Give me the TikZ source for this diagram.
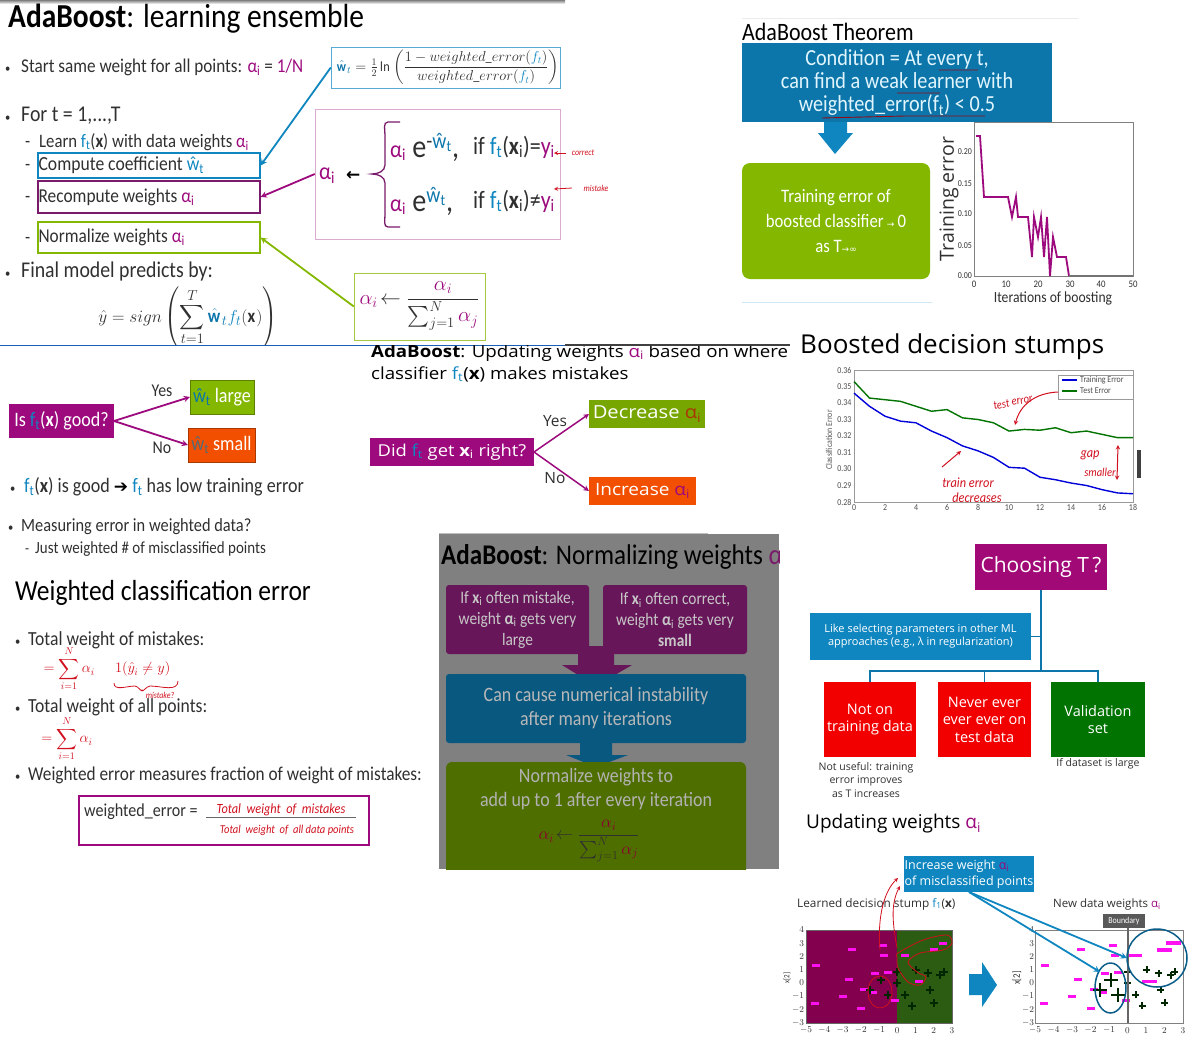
\documentclass[tikz,border=0pt]{standalone}
\usepackage{fontspec}
\usepackage{amsmath}
\setmainfont[FakeStretch=0.88]{Carlito}
\newfontfamily\wide{Open Sans}
\newfontfamily\wider[FakeStretch=1.12]{Open Sans}
\newfontfamily\symb{DejaVu Sans}
\usetikzlibrary{positioning}

\definecolor{cblue}{HTML}{0F86C0}
\definecolor{cdeep}{HTML}{0C76AB}
\definecolor{cpurple}{HTML}{9C0A7D}
\definecolor{cdark}{HTML}{7A1A6A}
\definecolor{cgreen}{HTML}{84B800}
\definecolor{corange}{HTML}{F25000}
\definecolor{cred}{HTML}{D0101E}
\definecolor{ctext}{HTML}{303030}
\definecolor{cmag}{HTML}{FF10F0}
\definecolor{cplum}{HTML}{82004D}
\definecolor{cmoss}{HTML}{2B5C12}
\definecolor{cline}{HTML}{1A5FB4}
\definecolor{cwine}{HTML}{8A0030}

\newcommand{\fs}[2][1.2]{\fontsize{#2}{\fpeval{#1*#2}}\selectfont}
\newcommand{\ai}[1][cpurple]{\textcolor{#1}{α\textsubscript{i}}}
\newcommand{\ft}{\textcolor{cblue}{f\textsubscript{t}}}
\newcommand{\wt}[1][cblue]{\textcolor{#1}{ŵ\textsubscript{t}}}
\newcommand{\bul}[1]{\makebox[#1pt][l]{\fs{12}\textbullet}}
% stump data, x/y of the points
\newcommand{\minpts}{-4.45/1.35,-4.5/-1.55,-2.5/2.5,-2.65/.3,-3/-1,-2/-1.9,-1.8/-.5,-1.35/-.75,-1.2/.7,-.8/2.8,-.7/2.1,-.5/.8,-.1/-1.3}
\newcommand{\mispts}{.4/2.05,1.2/.1,2/2.5,2.5/3}
\newcommand{\pluspts}{0/.8,0/0,.45/-.9,.8/-1.7,1.05/1,1.7/.75,1.8/-.5,2/-1.5,2.35/.6,2.55/.85}
\newcommand{\misplus}{-.9/.2,-1.5/-.5,-.5/-.9}

\tikzset{
  txt/.style={anchor=west,inner sep=0pt,text=ctext,yshift=-2pt},
  mid/.style={inner sep=0pt,text=ctext,align=center},
  slab/.style={inner sep=0pt,outer sep=0pt,text=white,align=center},
  hand/.style={inner sep=0pt,text=cred,font=\fs{9}\itshape},
  handline/.style={cred,line width=.8pt},
  tick/.style={inner sep=0pt,text=ctext,font=\fs{9}},
  bar/.style={fill=cmag,inner sep=0pt,minimum width=8pt,minimum height=3pt},
  bigbar/.style={fill=cmag,inner sep=0pt,minimum width=15pt,minimum height=3.5pt},
  plus/.style={line width=2pt,black!85!green},
}

\begin{document}
\begin{tikzpicture}[x=1pt,y=-1pt,>=stealth]
\useasboundingbox (0,0) rectangle (1192,1042);

% learning ensemble
\shade[top color=gray,bottom color=white] (0,0) rectangle (565,4);
\node[txt,text=black] (ttlA) at (8,17) {\fs{33.5}\textbf{AdaBoost}: learning ensemble};
\node[txt] (startA) at (5,65) {\bul{16}\fs{19.5}Start same weight for all points: \ai{} = \textcolor{cpurple}{1/N}};
\node[txt] (forA) at (5,114) {\bul{16}\fs{22.5}For t = 1,...,T};
\node[txt] (learnA) at (25,140) {\makebox[14pt][l]{\fs{19}-}\fs{19}Learn \ft(\textbf{x}) with data weights \ai};
\node[txt] (dashB) at (25,165) {\fs{19}-};
\node[txt] (dashC) at (25,197) {\fs{19}-};
\node[txt] (dashD) at (25,238) {\fs{19}-};
\node[draw=cblue,line width=1.2pt,inner sep=0pt,minimum width=222pt,minimum height=25pt] (coefbox) at (149,165.5) {};
\node[draw=cdark,line width=1.2pt,inner sep=0pt,minimum width=222pt,minimum height=32pt] (recbox) at (149,197) {};
\node[draw=cgreen,line width=1.2pt,inner sep=0pt,minimum width=222pt,minimum height=31pt] (normbox) at (149,237.5) {};
\node[txt,right=1pt of coefbox.west,yshift=2pt] (coeftxt) {\fs{20}Compute coefficient \wt};
\node[txt,right=1pt of recbox.west,yshift=2pt] (rectxt) {\fs{19.7}Recompute weights \ai};
\node[txt,right=1pt of normbox.west,yshift=2pt] (normtxt) {\fs{19.6}Normalize weights \ai};
\node[txt] (finalA) at (5,269) {\bul{16}\fs{22.5}Final model predicts by:};

\node[draw=cblue!70,inner sep=0pt,minimum width=229pt,minimum height=41pt] (wbox) at (445.5,67.5) {};
\node[mid] (wform) at (448,67.5) {\fs{14}$\textcolor{cdeep}{\hat{\mathbf{w}}_t}=\frac{1}{2}\ln\left(\dfrac{1-weighted\_error(\textcolor{cblue}{f_t})}{weighted\_error(\textcolor{cblue}{f_t})}\right)$};

\node[draw=cpurple!35,inner sep=0pt,minimum width=245pt,minimum height=130pt] (rulebox) at (437.5,174) {};
\node[txt] (rulea) at (319,174) {\fs{24}\ai};
\node[txt,text=black] (rulearr) at (346,174) {\symb\fs{17}\textbf{←}};
\node[txt] (rowa) at (390,145) {\fs{24}\ai{}\fs{32} e\textsuperscript{-\textcolor{cdeep}{ŵ\textsubscript{t}}},};
\node[txt] (rowb) at (390,199) {\fs{24}\ai{}\fs{32} e\textsuperscript{\textcolor{cdeep}{ŵ\textsubscript{t}}},};
\node[txt] (ifa) at (473,145) {\fs{25}if \ft(\textbf{x}\textsubscript{i})=\textcolor{cpurple}{y\textsubscript{i}}};
\node[txt] (ifb) at (473,199) {\fs{25}if \ft(\textbf{x}\textsubscript{i})≠\textcolor{cpurple}{y\textsubscript{i}}};
\draw[cdark,line width=1.3pt] (400,122) -- (388,122) to[out=180,in=90] (385,135) -- (385,165) to[out=270,in=0] (372,174) to[out=0,in=90] (385,183) -- (385,215) to[out=270,in=180] (388,227) -- (400,227);
\node[hand] (corrA) at (583,153) {\fs{9}\itshape correct};
\node[hand] (mistA) at (596,188) {\fs{9}\itshape mistake};
\draw[handline,->] (566,153) -- (554,153);
\draw[handline,->] (572,188) -- (554,189);

\node[draw=cgreen!75,inner sep=0pt,minimum width=131pt,minimum height=67pt] (alphabox) at (419.5,306.5) {};
\node[mid] (alphaform) at (419.5,306) {\fs{20.5}$\textcolor{cpurple}{\alpha_i}\!\leftarrow\dfrac{\textcolor{cpurple}{\alpha_i}}{\sum_{j=1}^{N}\textcolor{cpurple}{\alpha_j}}$};

\begin{scope}
\clip (0,270) rectangle (330,344);
\node[mid] (predict) at (188,318) {\fs{19}$\hat{y}=sign\left(\displaystyle\sum_{t=1}^{T}\textcolor{cdeep}{\hat{\mathbf{w}}_t}\textcolor{cblue}{f_t}(\mathbf{x})\right)$};
\end{scope}
\draw[cline,line width=1pt] (0,345) -- (565,345);

\draw[->,cblue,line width=1.8pt] (wbox.west) -- (coefbox.east);
\draw[->,cpurple,line width=1.8pt] (rulebox.west) -- (recbox.east);
\draw[->,cgreen,line width=1.8pt] (alphabox.west) -- (normbox.east);

% theorem
\draw[black!8] (742,18) -- (1078,18);
\node[txt,text=black] (ttlB) at (742,30) {\fs{25}AdaBoost Theorem};
\node[slab,fill=cdeep,minimum width=310pt,minimum height=79pt,text=white!88!cyan,font={\fs[1.02]{23}}] (condbox) at (897,82.5) {Condition = At every t,\\can find a weak learner with\\weighted\_error(f\textsubscript{t}) < 0.5};
\draw[cred!70!black,line width=.9pt] (939,70) -- (978,70) (897,93) -- (940,93) (822,118) -- (905,116) -- (985,116);
\fill[cblue] (824,122) -- (847,122) -- (847,133) -- (853,133) -- (835,154) -- (818,133) -- (824,133) -- cycle;
\node[slab,fill=cgreen,rounded corners=8pt,minimum width=188pt,minimum height=116pt,font={\fs[1.32]{19}}] (trainbox) at (836,221) {Training error of\\boosted classifier\,{\symb\fs{9}→}\,0\\as T{\symb\fs{9}→∞}};

\fill[white] (932,122) rectangle (1144,307);
\draw[black!50] (974,122) rectangle (1133,276);
\draw[cpurple,line width=1.8pt] (976,136) -- (980,136) -- (984,197) -- (1008,197) -- (1012,217) -- (1016,197) -- (1018,217) -- (1028,217) -- (1032,257) -- (1034,217) -- (1038,237) -- (1041,217) -- (1044,257) -- (1047,217) -- (1050,276) -- (1053,237) -- (1057,257) -- (1066,257) -- (1069,276);
\draw[black!55,line width=1.2pt] (1069,276) -- (1133,276);
\foreach \v/\ypos in {0.00/276,0.05/246,0.10/214,0.15/184,0.20/152}
  \node[tick,anchor=east] (yt\ypos) at (972,\ypos) {\fs{9}\v};
\foreach \v/\xpos in {0/974,10/1006,20/1038,30/1070,40/1101,50/1133}
  \node[tick] (xt\xpos) at (\xpos,284) {\fs{10}\v};
\node[mid,rotate=90] (trerr) at (949,199) {\wide\fs{19.5}Training error};
\node[mid] (iters) at (1053,298) {\fs{15.5}Iterations of boosting};
\draw[cblue!20] (742,302) -- (932,302);

% good classifier slide
\node[slab,fill=cpurple,minimum width=105pt,minimum height=34pt] (goodbox) at (61.5,421) {\fs{20.5}Is \ft(\textbf{x}) good?};
\node[slab,fill=cgreen,draw=cgreen!70!black,minimum width=64pt,minimum height=34pt] (largebox) at (222,397) {\fs{20.5}\wt[cdeep] large};
\node[slab,fill=corange,draw=corange!70!black,minimum width=67pt,minimum height=34pt] (smallbox) at (221.5,445) {\fs{20.5}\wt[cdeep!70!corange] small};
\draw[->,cpurple,line width=1.8pt] (goodbox.east) -- (largebox.west);
\draw[->,cpurple,line width=1.8pt] (goodbox.east) -- (smallbox.west);
\node[mid] (yesA) at (162,391) {\fs{18}Yes};
\node[mid] (noA) at (162,448) {\fs{18}No};
\node[txt] (goodA) at (10,485) {\bul{14}\fs{20.5}\ft(\textbf{x}) is good {\symb\fs{17}\textcolor{black}{➔}} \ft{} has low training error};
\node[txt] (measA) at (8,525) {\bul{13}\fs{18.6}Measuring error in weighted data?};
\node[txt] (justA) at (25,547) {\makebox[10pt][l]{\fs{15}-}\fs{17}Just weighted \# of misclassified points};

% weighted error
\node[txt,text=black] (ttlC) at (15,591) {\fs{29}Weighted classification error};
\node[txt] (totA) at (15,638) {\bul{13}\fs{20}Total weight of  mistakes:};
\node[hand] (sumA) at (107,669) {\fs{14.5}\textcolor{cred}{$=\displaystyle\sum_{i=1}^{N}\alpha_i\quad\ \ 1(\hat{y}_i\neq y)$}};
\draw[handline] (114,683) to[out=270,in=180] (135,686) to[out=0,in=270] (142,690) to[out=270,in=180] (150,686) to[out=0,in=270] (178,681);
\node[hand] (mistB) at (160,695) {\fs{9}\itshape mistake?};
\node[txt] (totB) at (15,705) {\bul{13}\fs{20}Total weight of all points:};
\node[hand] (sumB) at (67,739) {\fs{14.5}\textcolor{cred}{$=\displaystyle\sum_{i=1}^{N}\alpha_i$}};
\node[txt] (fracA) at (15,773) {\bul{13}\fs{19.6}Weighted error measures fraction of weight of mistakes:};
\node[draw=cpurple,line width=1.6pt,inner sep=0pt,minimum width=290pt,minimum height=49pt] (errbox) at (224,820.5) {};
\node[txt] (errtxt) at (84,810) {\fs{18.3}weighted\_error =};
\node[hand] (errtop) at (281,810) {\fs{14}\itshape Total\ \ weight\ \ of\ \ mistakes};
\node[hand] (errbot) at (287,830) {\fs{12}\itshape Total\ \ weight\ \ of\ \ all data points};
\draw[black!60,line width=.8pt] (206,817) -- (356,817);

% updating slide
\begin{scope}
\clip (365,345) rectangle (795,385);
\node[txt,text=black] (ttlD) at (371,351) {\wider\fs{16.7}\textbf{AdaBoost}: Updating weights \ai{} based on where};
\end{scope}
\node[txt,text=black] (ttlDb) at (371,372) {\wider\fs{16.7}classifier \ft(\textbf{x}) makes mistakes};
\fill[black!75] (565,344) rectangle (790,346);
\node[slab,fill=cpurple,minimum width=164pt,minimum height=28pt] (didbox) at (452,452) {\wider\fs{16.4}Did \ft{} get \textbf{x}\textsubscript{i} right?};
\node[slab,fill=cgreen!90!black,minimum width=116pt,minimum height=28pt] (decbox) at (647,414) {\wider\fs{18}Decrease \ai[corange!70!black]};
\node[slab,fill=corange,minimum width=107pt,minimum height=28pt] (incbox) at (642.5,491) {\wider\fs{17}Increase \ai[cpurple]};
\draw[->,cpurple,line width=1.5pt] (didbox.east) -- (decbox.west);
\draw[->,cpurple,line width=1.5pt] (didbox.east) -- (incbox.west);
\node[mid] (yesB) at (555,421) {\wide\fs{15.5}Yes};
\node[mid] (noB) at (555,478) {\wide\fs{15.5}No};

% stumps
\node[txt,text=black] (ttlE) at (800,345) {\wide\fs{26}Boosted decision stumps};
\draw[black!40] (854,370) rectangle (1133,502);
\begin{scope}[shift={(854,502)},x=15.5pt,y=16.5pt]
\draw[green!45!black,line width=1.4pt] (0,7.3) -- (1,6.3) -- (2,6.2) -- (3,6.1) -- (4,5.8) -- (5,5.5) -- (6,5.6) -- (7,5.1) -- (8,5.0) -- (9,4.8) -- (10,4.3) -- (11,4.4) -- (12,4.35) -- (13,4.5) -- (14,4.2) -- (15,4.3) -- (16,4.1) -- (17,3.9) -- (18,3.9);
\draw[blue!85!black,line width=1.4pt] (0,6.6) -- (1,5.8) -- (2,5.2) -- (3,4.9) -- (4,4.8) -- (5,4.3) -- (6,3.9) -- (7,3.4) -- (8,3.1) -- (9,2.7) -- (10,2.1) -- (11,2.05) -- (12,1.5) -- (13,1.35) -- (14,1.15) -- (15,1) -- (16,.75) -- (17,.55) -- (18,.5);
\foreach \v in {0,2,...,18}
  \node[tick,text=black!70] (sx\v) at (\v,-.35) {\fs{9}\v};
\foreach \v/\lab in {0/0.28,1/0.29,2/0.30,3/0.31,4/0.32,5/0.33,6/0.34,7/0.35,8/0.36}
  \node[tick,text=black!70,anchor=east] (sy\v) at (-.15,\v) {\fs{9}\lab};
\end{scope}
\node[fill=white,draw=black!40,inner sep=0pt,minimum width=75pt,minimum height=24pt] (legend) at (1095.5,387) {};
\draw[blue!85!black,line width=1.2pt] (1062,380) -- (1077,380);
\draw[green!45!black,line width=1.2pt] (1062,391) -- (1077,391);
\node[txt,text=black!70,yshift=2pt] (legA) at (1080,380) {\fs{9}Training Error};
\node[txt,text=black!70,yshift=2pt] (legB) at (1080,391) {\fs{9}Test Error};
\node[mid,rotate=90,text=black!65] (clserr) at (829,440) {\fs{9}Classification Error};
\node[hand,rotate=12] (testH) at (1013,402) {\fs{12}\itshape test error};
\draw[handline,->,line width=1pt] (1058,392) .. controls (1035,393) and (1020,405) .. (1015,425);
\draw[handline,->,line width=1pt] (942,467) -- (961,451);
\node[hand] (trainH) at (968,483) {\fs{14}\itshape train error};
\node[hand] (decH) at (977,498) {\fs{14}\itshape decreases};
\node[hand] (gapH) at (1090,455) {\fs{14}\itshape gap};
\node[hand] (smallH) at (1100,472) {\fs{12}\itshape smaller};
\draw[handline,<->,line width=1pt] (1118,445) -- (1117,480);
\fill[black!75] (1137,450) rectangle (1141,478);

% normalizing slide
\draw[black!25] (439,533) -- (708,533);
\fill[black!50] (439,534) rectangle (779,869);
\begin{scope}
\clip (439,534) rectangle (779,869);
\node[txt,text=black] (ttlF) at (441,555) {\fs{28.5}\textbf{AdaBoost}: Normalizing weights \ai[cdark]};
\node[slab,fill=cdark!85!black,rounded corners=3pt,minimum width=143pt,minimum height=69pt,text=black!22,font={\fs[1.2]{17.5}}] (oftenA) at (517.5,619.5) {If \textbf{x}\textsubscript{i} often mistake,\\weight \textbf{α}\textsubscript{i} gets very\\large};
\node[slab,fill=cdark!85!black,rounded corners=3pt,minimum width=144pt,minimum height=69pt,text=black!22,font={\fs[1.2]{17.5}}] (oftenB) at (675,619.5) {If \textbf{x}\textsubscript{i} often correct,\\weight \textbf{α}\textsubscript{i} gets very\\\textbf{small}};
\fill[cdark!85!black] (578,646) -- (614,646) -- (614,665) -- (632,665) -- (596,686) -- (562,665) -- (578,665) -- cycle;
\node[slab,fill=cdeep!75!black,rounded corners=3pt,minimum width=300pt,minimum height=69pt,text=black!28,font={\fs[1.18]{20.4}}] (instab) at (596,708.5) {Can cause numerical instability\\after many iterations};
\fill[cdeep!75!black] (580,743) -- (612,743) -- (612,755) -- (628,755) -- (596,767) -- (566,755) -- (580,755) -- cycle;
\node[slab,fill=cgreen!60!black,rounded corners=6pt,minimum width=300pt,minimum height=130pt] (normC) at (596,827) {};
\node[mid,text=black!30,font={\fs[1.18]{20.4}}] (normtxtC) at (596,789) {Normalize weights to\\add up to 1 after every iteration};
\node[mid] (normform) at (589,841) {\fs{18}$\textcolor{cwine}{\alpha_i}\!\leftarrow\dfrac{\textcolor{cwine}{\alpha_i}}{\sum_{j=1}^{N}\textcolor{cwine}{\alpha_j}}$};
\end{scope}

% choosing T
\node[slab,fill=cpurple!95!red,minimum width=132pt,minimum height=46pt] (choosebox) at (1041,567) {\wide\fs{21}Choosing T\,?};
\node[slab,fill=cblue,minimum width=221pt,minimum height=47pt,font={\wide\fs[1.2]{11}}] (likebox) at (920.5,636.5) {Like selecting parameters in other ML\\approaches (e.g., λ in regularization)};
\node[slab,fill=red!95!black,minimum width=92pt,minimum height=75pt,font={\wide\fs[1.2]{14.5}}] (notbox) at (870,719.5) {Not on\\training data};
\node[slab,fill=red!95!black,minimum width=93pt,minimum height=75pt,font={\wide\fs[1.2]{14.5}}] (neverbox) at (984.5,719.5) {Never ever\\ever ever on\\test data};
\node[slab,fill=green!45!black,minimum width=94pt,minimum height=75pt,font={\wide\fs[1.2]{14.5}}] (valbox) at (1098,719.5) {Validation\\set};
\coordinate (junc) at (1041,671);
\draw[cdeep,line width=1.2pt] (choosebox.south) -- (junc);
\draw[cdeep,line width=1.2pt] (likebox.east) -- (likebox.east -| junc);
\draw[cdeep,line width=1.2pt] (notbox.north) |- (junc);
\draw[cdeep,line width=1.2pt] (neverbox.north) |- (junc);
\draw[cdeep,line width=1.2pt] (valbox.north) |- (junc);
\node[mid,font={\wide\fs[1.3]{10.5}}] (notuse) at (866,780) {Not useful: training\\error improves\\as T increases};
\node[mid,font={\wide\fs{10.5}}] (ifdata) at (1098,764) {If dataset is large};
\node[txt,text=black] (ttlG) at (806,822) {\wide\fs{19}Updating weights \ai};

% updating weights plots
\node[slab,fill=cblue,minimum width=130pt,minimum height=36pt,align=left,font={\wide\fs[1.25]{12.5}}] (incweight) at (969,874) {Increase weight \ai\\of misclassified points};
\node[mid,anchor=west] (stumpL) at (797,904) {\wide\fs{11.8}Learned decision stump \textcolor{cblue}{f\textsubscript{1}}(\textbf{x})};
\node[mid,anchor=west] (newR) at (1053,905) {\wide\fs{11.5}New data weights \ai};

\fill[cplum] (806,930) rectangle (897.25,1023);
\fill[cmoss] (897.25,930) rectangle (952,1023);
\draw[black!60] (806,930) rectangle (952,1023);
\begin{scope}[shift={(897.25,983)},x=18.25pt,y=13.3pt]
\foreach \a/\b in \minpts
  \node[bar] at (\a,\b) {};
\foreach \a/\b in \mispts
  \node[bar] at (\a,\b) {};
\foreach \a/\b in \pluspts
  \draw[plus] (\a,\b) +(-4pt,0) -- +(4pt,0) (\a,\b) +(0,-4pt) -- +(0,4pt);
\foreach \a/\b in \misplus
  \draw[plus] (\a,\b) +(-4pt,0) -- +(4pt,0) (\a,\b) +(0,-4pt) -- +(0,4pt);
\foreach \v in {-5,...,3}
  \node[tick] at (\v,-3.55) {\wide\fs{9}$\v$};
\foreach \v in {-3,...,4}
  \node[tick,anchor=east] at (-5.1,\v) {\wide\fs{9}$\v$};
\end{scope}
\node[mid,rotate=90] (ylabL) at (787,978) {\fs{8}x[2]};

\fill[cblue] (969,974) -- (982,974) -- (982,962) -- (997,985) -- (982,1007) -- (982,995) -- (969,995) -- cycle;

\draw[black!50] (1035,930) rectangle (1183,1023);
\begin{scope}[shift={(1127.5,983)},x=18.5pt,y=13.3pt]
\foreach \a/\b in \minpts
  \node[bar] at (\a,\b) {};
\foreach \a/\b in \mispts
  \node[bigbar] at (\a,\b) {};
\foreach \a/\b in \pluspts
  \draw[plus] (\a,\b) +(-3.5pt,0) -- +(3.5pt,0) (\a,\b) +(0,-3.5pt) -- +(0,3.5pt);
\foreach \a/\b in \misplus
  \draw[plus] (\a,\b) +(-7pt,0) -- +(7pt,0) (\a,\b) +(0,-7pt) -- +(0,7pt);
\foreach \v in {-5,...,3}
  \node[tick] at (\v,-3.55) {\wide\fs{9}$\v$};
\foreach \v in {-3,...,4}
  \node[tick,anchor=east] at (-5.05,\v) {\wide\fs{9}$\v$};
\end{scope}
\node[mid,rotate=90] (ylabR) at (1017,978) {\fs{10}x[2]};
\draw[black!60,line width=1.5pt] (1128,928) -- (1128,1023);
\node[slab,fill=black!65,minimum width=42pt,minimum height=14pt,font=\fs{9}] (boundary) at (1124,921) {Boundary};

% red marks, left plot
\draw[cred,line width=.8pt] (880,992) ellipse (12 and 16);
\draw[cred,line width=.8pt] plot[smooth cycle] coordinates {(898,953) (923,940) (947,935) (952,943) (943,950) (920,953) (908,962) (917,972) (926,977) (920,985) (908,982) (898,968) (897,957)};
\draw[cred,line width=.8pt,->] (880,950) .. controls (877,915) and (885,890) .. (898,878);
\draw[cred,line width=.8pt,->] (897,948) .. controls (893,925) and (890,905) .. (900,886);

% blue marks, right plot
\draw[cdeep!80!black,line width=1.5pt] (1157,958) ellipse (30 and 29);
\draw[cdeep!80!black,line width=1.5pt] (1110.5,988) ellipse (15.5 and 25);
\coordinate (bigring) at (1127,958);
\coordinate (smallring) at (1100,972);
\draw[->,cblue,line width=1.8pt] (incweight.south) -- (bigring);
\draw[->,cblue,line width=1.8pt] (incweight.south) -- (smallring);
\end{tikzpicture}
\end{document}
